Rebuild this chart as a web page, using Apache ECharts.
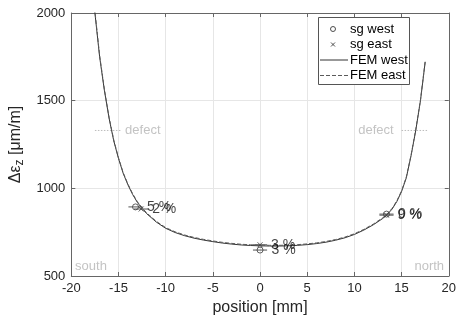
<!DOCTYPE html>
<html>
<head>
<meta charset="utf-8">
<script src="https://cdn.jsdelivr.net/npm/echarts@6/dist/echarts.min.js"></script>
<style>
  html, body { margin: 0; padding: 0; background: #fff; }
  #chart { width: 459px; height: 321px; }
</style>
</head>
<body>
<div id="chart"></div>
<script>
// FEM strain along the specimen (position in mm, strain change in µm/m)
const femPos = [-17.7, -17.5, -17, -16.5, -16, -15.5, -15, -14.5, -14, -13.5, -13, -12.5, -12, -11, -10, -9, -8, -7, -6, -5, -4, -3, -2, -1, 0, 1, 2, 3, 4, 5, 6, 7, 8, 9, 10, 11, 12, 13, 13.5, 14, 14.5, 15, 15.5, 16, 16.5, 17, 17.5];
const femWest = [2120, 2000, 1750, 1560, 1400, 1270, 1170, 1085, 1020, 965, 920, 885, 855, 808, 772, 748, 730, 716, 705, 696, 688, 682, 677, 674, 672, 671, 671, 672, 675, 679, 685, 693, 704, 718, 737, 762, 792, 828, 852, 882, 925, 982, 1060, 1185, 1330, 1500, 1720];
const femEast = [2130, 2010, 1758, 1566, 1405, 1275, 1174, 1089, 1024, 969, 924, 889, 859, 812, 776, 752, 734, 720, 709, 700, 692, 686, 681, 678, 676, 675, 675, 676, 679, 683, 689, 697, 708, 722, 741, 766, 796, 832, 856, 886, 929, 986, 1064, 1189, 1334, 1504, 1724];

// strain gauge readings and their deviation from FEM
const sgWestPos = [-13.2, 0, 13.4];
const sgWestVal = [894, 648, 853];
const sgWestDev = ['5 %', '3 %', '0 %'];
const sgEastPos = [-12.6, 0, 13.4];
const sgEastVal = [882, 678, 847];
const sgEastDev = ['2 %', '3 %', '9 %'];
const gaugeHalfLength = 0.75;

// defect markers and edge annotations
const defectLevel = 1330;
const defectLeft = [-17.5, -14.8];
const defectRight = [15.0, 17.7];
const defectTextX = [-14.3, 10.4];
const sideText = ['south', 'north'];
const sideTextX = [-19.6, 19.5];
const sideTextY = 552;

const legendNames = ['sg west', 'sg east', 'FEM west', 'FEM east'];

const font = 'Liberation Sans, Arial, Helvetica, sans-serif';
const ink = '#262626';
const markColor = '#3a3a3a';
const solidColor = '#333';
const dashColor = '#5a5a5a';

const zip = (xs, ys) => xs.map((x, i) => [x, ys[i]]);

const xMarkPath = 'path://M0,0L10,10M10,0L0,10';

const chart = echarts.init(document.getElementById('chart'), null, { renderer: 'canvas' });

const gaugeBars = [];
sgWestPos.forEach((x, i) => gaugeBars.push([x, sgWestVal[i]]));
sgEastPos.forEach((x, i) => gaugeBars.push([x, sgEastVal[i]]));

// legend box: icons on the left, names on the right
const box = { x: 318.5, y: 17.5, w: 91, h: 67 };
const rowY = [29, 44.5, 60, 75.5];
const iconX0 = 320, iconX1 = 348, iconMid = 333, textX = 350;
const legendGraphic = [
  { type: 'rect', z: 10, shape: { x: box.x, y: box.y, width: box.w, height: box.h },
    style: { fill: '#fff', stroke: '#555', lineWidth: 1 } },
  { type: 'circle', z: 11, shape: { cx: iconMid, cy: rowY[0], r: 2.5 },
    style: { fill: 'none', stroke: markColor, lineWidth: 0.9 } },
  { type: 'line', z: 11, shape: { x1: iconMid - 2, y1: rowY[1] - 2, x2: iconMid + 2, y2: rowY[1] + 2 },
    style: { stroke: markColor, lineWidth: 0.9 } },
  { type: 'line', z: 11, shape: { x1: iconMid - 2, y1: rowY[1] + 2, x2: iconMid + 2, y2: rowY[1] - 2 },
    style: { stroke: markColor, lineWidth: 0.9 } },
  { type: 'line', z: 11, shape: { x1: iconX0, y1: rowY[2], x2: iconX1, y2: rowY[2] },
    style: { stroke: solidColor, lineWidth: 1 } },
  { type: 'line', z: 11, shape: { x1: iconX0, y1: rowY[3], x2: iconX1, y2: rowY[3] },
    style: { stroke: dashColor, lineWidth: 1, lineDash: [4, 2] } }
].concat(legendNames.map((name, i) => ({
  type: 'text', z: 11, x: textX, y: rowY[i],
  style: { text: name, font: '13px ' + font, fill: '#000', textVerticalAlign: 'middle', verticalAlign: 'middle' }
})));

const option = {
  animation: false,
  backgroundColor: '#fff',
  grid: { left: 69, right: 10, top: 13, bottom: 44, containLabel: false },
  graphic: legendGraphic,
  xAxis: [{
    type: 'value', min: -20, max: 20, interval: 5,
    name: 'position [mm]', nameLocation: 'middle', nameGap: 24,
    nameTextStyle: { fontFamily: font, fontSize: 16, color: ink },
    axisLine: { show: true, onZero: false, lineStyle: { color: '#666', width: 1 } },
    axisTick: { show: true, inside: true, length: 4, lineStyle: { color: '#666' } },
    axisLabel: { fontFamily: font, fontSize: 13, color: ink, margin: 6 },
    splitLine: { show: true, lineStyle: { color: '#e6e6e6', width: 1 } }
  }, {
    type: 'value', min: -20, max: 20, interval: 5, position: 'top',
    axisLine: { show: true, onZero: false, lineStyle: { color: '#666', width: 1 } },
    axisTick: { show: true, inside: true, length: 4, lineStyle: { color: '#666' } },
    axisLabel: { show: false }, splitLine: { show: false }
  }],
  yAxis: [{
    type: 'value', min: 500, max: 2000, interval: 500,
    name: '{a|Δε}{s|z}{a| [μm/m]}', nameLocation: 'middle', nameGap: 38, nameRotate: 90,
    nameTextStyle: {
      fontFamily: font, fontSize: 16, color: ink,
      rich: {
        a: { fontFamily: font, fontSize: 16, color: ink },
        s: { fontFamily: font, fontSize: 12, color: ink, verticalAlign: 'bottom', padding: [7, 0, 0, 0] }
      }
    },
    axisLine: { show: true, onZero: false, lineStyle: { color: '#666', width: 1 } },
    axisTick: { show: true, inside: true, length: 4, lineStyle: { color: '#666' } },
    axisLabel: { fontFamily: font, fontSize: 13, color: ink, margin: 6, formatter: v => String(v) },
    splitLine: { show: true, lineStyle: { color: '#e6e6e6', width: 1 } }
  }, {
    type: 'value', min: 500, max: 2000, interval: 500, position: 'right',
    axisLine: { show: true, onZero: false, lineStyle: { color: '#666', width: 1 } },
    axisTick: { show: true, inside: true, length: 4, lineStyle: { color: '#666' } },
    axisLabel: { show: false }, splitLine: { show: false }
  }],
  series: [
    {
      // defect lines and labels
      type: 'line', silent: true, symbol: 'none',
      data: [[defectLeft[0], defectLevel], [defectLeft[1], defectLevel]],
      lineStyle: { color: '#bdbdbd', width: 1, type: [1.5, 1.5] },
      z: 1
    },
    {
      type: 'line', silent: true, symbol: 'none',
      data: [[defectRight[0], defectLevel], [defectRight[1], defectLevel]],
      lineStyle: { color: '#bdbdbd', width: 1, type: [1.5, 1.5] },
      z: 1
    },
    {
      type: 'scatter', silent: true, symbolSize: 0,
      data: defectTextX.map(x => [x, defectLevel]),
      label: {
        show: true, position: 'right', distance: 0, formatter: 'defect',
        fontFamily: font, fontSize: 13, color: '#b4b4b4'
      },
      z: 1
    },
    {
      type: 'scatter', silent: true, symbolSize: 0,
      data: [
        { value: [sideTextX[0], sideTextY], label: { position: 'right', formatter: sideText[0] } },
        { value: [sideTextX[1], sideTextY], label: { position: 'left', formatter: sideText[1] } }
      ],
      label: { show: true, distance: 0, fontFamily: font, fontSize: 13, color: '#b4b4b4' },
      z: 1
    },
    {
      name: 'FEM west', type: 'line', showSymbol: false, symbol: 'none',
      data: zip(femPos, femWest),
      lineStyle: { color: solidColor, width: 1 },
      z: 3
    },
    {
      name: 'FEM east', type: 'line', showSymbol: false, symbol: 'none',
      data: zip(femPos, femEast),
      lineStyle: { color: dashColor, width: 1, type: [4, 2] },
      z: 3
    },
    {
      // gauge length bars through the strain gauge readings
      type: 'custom', silent: true,
      data: gaugeBars,
      renderItem: (params, api) => {
        const x = api.value(0), y = api.value(1);
        const a = api.coord([x - gaugeHalfLength, y]);
        const b = api.coord([x + gaugeHalfLength, y]);
        return {
          type: 'line',
          shape: { x1: a[0], y1: a[1], x2: b[0], y2: b[1] },
          style: { stroke: '#555', lineWidth: 1 }
        };
      },
      z: 4
    },
    {
      name: 'sg west', type: 'scatter', symbol: 'circle', symbolSize: 6,
      data: sgWestPos.map((x, i) => ({ value: [x, sgWestVal[i]], label: { formatter: sgWestDev[i] } })),
      itemStyle: { color: 'transparent', borderColor: markColor, borderWidth: 1 },
      label: { show: true, position: 'right', distance: 8, fontFamily: font, fontSize: 14, color: '#111' },
      z: 5
    },
    {
      name: 'sg east', type: 'scatter', symbol: xMarkPath, symbolSize: 5,
      data: sgEastPos.map((x, i) => ({ value: [x, sgEastVal[i]], label: { formatter: sgEastDev[i] } })),
      itemStyle: { color: 'transparent', borderColor: markColor, borderWidth: 1 },
      label: { show: true, position: 'right', distance: 8, fontFamily: font, fontSize: 14, color: '#111' },
      z: 5
    }
  ]
};

chart.setOption(option);
</script>
</body>
</html>
